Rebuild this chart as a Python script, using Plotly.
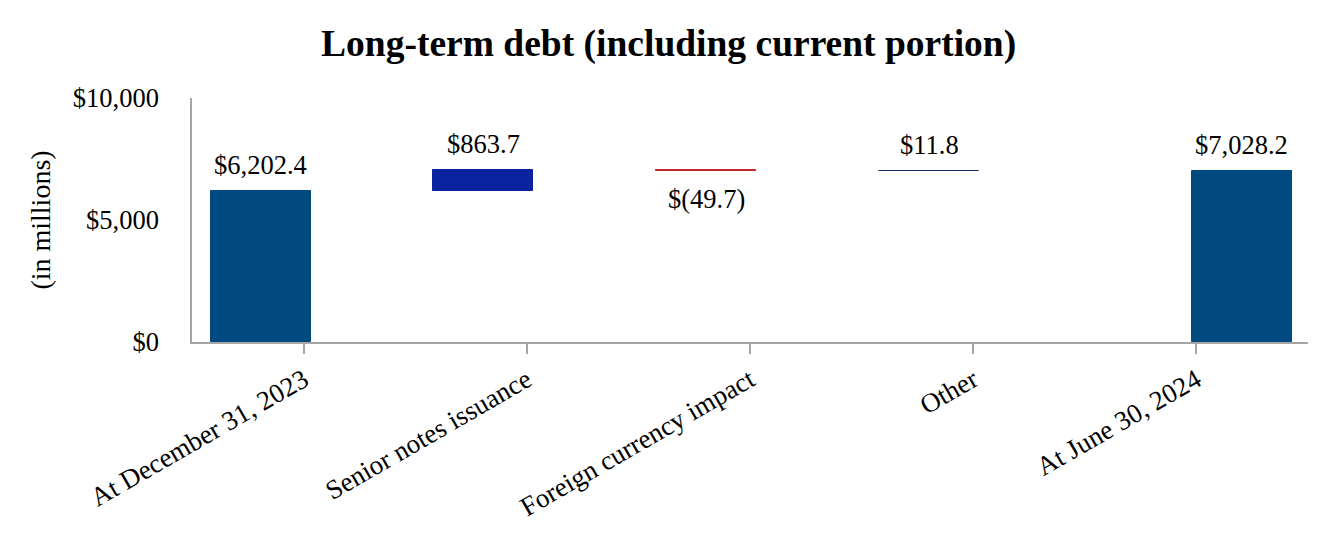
import plotly.graph_objects as go

# Debt roll-forward (US$ millions)
categories = ["At December 31, 2023", "Senior notes issuance", "Foreign currency impact",
              "Other", "At June 30, 2024"]
values = [6202.4, 863.7, -49.7, 11.8, 7028.2]
is_total = [True, False, False, False, True]
colors = ["#004A7F", "#0C23A0", "#C0262C", "#1B2F6B", "#004A7F"]
y_ticks = [0, 5000, 10000]
y_tick_labels = ["$0", "$5,000", "$10,000"]

# bar placement inside each category slot (fraction of slot)
bar_width = 0.448
bar_offsets = [-0.417, -0.419, -0.421, -0.421, -0.02]

# running total gives the floating base of each change bar
bases = []
running = 0.0
for v, tot in zip(values, is_total):
    if tot:
        bases.append(0.0)
        running = v
    else:
        bases.append(running)
        running += v


def money(v):
    s = f"${abs(v):,.1f}"
    return f"$({abs(v):,.1f})" if v < 0 else s


FONT = "Liberation Serif"
LABEL_SIZE = 26.5

fig = go.Figure()
fig.add_trace(go.Bar(
    x=categories,
    y=values,
    base=bases,
    width=bar_width,
    offset=bar_offsets,
    marker=dict(color=colors, line=dict(color=colors, width=1)),
    hoverinfo="skip",
    showlegend=False,
))

annotations = []
for i, (v, b) in enumerate(zip(values, bases)):
    top = b + v
    xc = i + bar_offsets[i] + bar_width / 2
    if v >= 0:
        annotations.append(dict(x=xc, y=top, xref="x", yref="y", text=money(v),
                                showarrow=False, yanchor="bottom", yshift=9,
                                font=dict(family=FONT, size=LABEL_SIZE, color="#000000")))
    else:
        annotations.append(dict(x=xc, y=top, xref="x", yref="y", text=money(v),
                                showarrow=False, yanchor="top", yshift=-11,
                                font=dict(family=FONT, size=LABEL_SIZE, color="#000000")))

fig.update_layout(
    width=1332, height=540,
    margin=dict(l=192, r=24, t=98, b=198),
    paper_bgcolor="white", plot_bgcolor="white",
    title=dict(text="<b>Long-term debt (including current portion)</b>",
               x=0.502, xanchor="center", y=0.921, yanchor="middle",
               font=dict(family=FONT, size=37.5, color="#000000")),
    font=dict(family=FONT, size=LABEL_SIZE, color="#000000"),
    annotations=annotations,
    bargap=0,
)
fig.update_xaxes(
    type="category",
    showline=True, linecolor="#A6A6A6", linewidth=1.5,
    ticks="outside", ticklen=10, tickwidth=1.5, tickcolor="#A6A6A6",
    tickangle=-30,
    tickfont=dict(family=FONT, size=27, color="#000000"),
    showgrid=False, zeroline=False,
)
fig.update_yaxes(
    range=[0, 10000],
    tickvals=y_ticks, ticktext=y_tick_labels,
    showline=True, linecolor="#A6A6A6", linewidth=1.5,
    ticks="", ticklabelstandoff=26,
    tickfont=dict(family=FONT, size=LABEL_SIZE, color="#000000"),
    showgrid=False, zeroline=False,
    title=dict(text="(in millions)", standoff=14,
               font=dict(family=FONT, size=28, color="#000000")),
)

fig.write_html("out.html")
